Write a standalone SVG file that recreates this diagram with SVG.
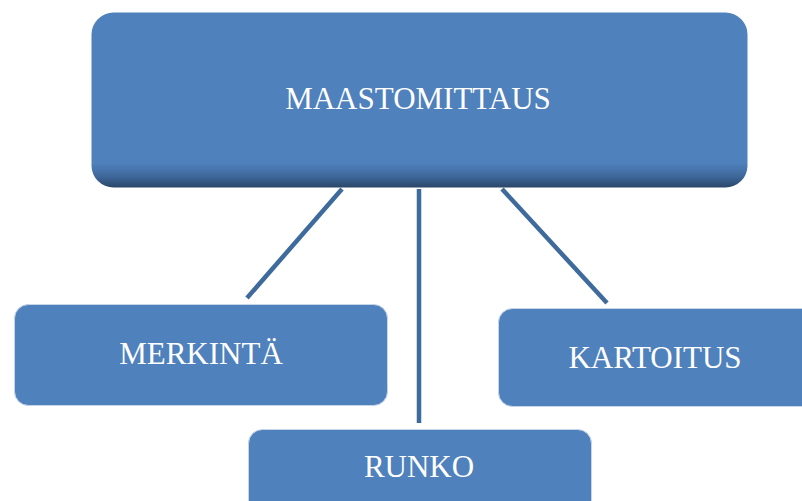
<svg xmlns="http://www.w3.org/2000/svg" width="802" height="501" viewBox="0 0 802 501">
<defs>
<linearGradient id="topShade" x1="0" y1="0" x2="0" y2="1">
<stop offset="0" stop-color="#4f81bd"/>
<stop offset="0.86" stop-color="#4f81bd"/>
<stop offset="0.94" stop-color="#3d6698"/>
<stop offset="1" stop-color="#2a4668"/>
</linearGradient>
<style>
.box{fill:#4f81bd;stroke:#c6d5e8;stroke-width:1}
.main{fill:url(#topShade);stroke:none}
.lbl{font-family:"Liberation Serif","Times New Roman",serif;fill:#ffffff;text-anchor:middle}
.conn{stroke:#3f6a9c;stroke-width:4.5;fill:none}
</style>
</defs>
<rect width="802" height="501" fill="#ffffff"/>
<g id="connectors">
<line class="conn" x1="342" y1="189" x2="247" y2="298"/>
<line class="conn" x1="419" y1="189" x2="419" y2="423"/>
<line class="conn" x1="502" y1="189" x2="607" y2="303"/>
</g>
<g id="maastomittaus">
<rect class="main" x="91.5" y="12.5" width="656" height="175" rx="22" ry="22"/>
<text class="lbl" x="418" y="109" font-size="31">MAASTOMITTAUS</text>
</g>
<g id="merkinta">
<rect class="box" x="14.5" y="304.5" width="373" height="101" rx="14" ry="14"/>
<text class="lbl" x="201" y="364" font-size="31">MERKINTÄ</text>
</g>
<g id="kartoitus">
<rect class="box" x="498.5" y="308.5" width="320" height="98" rx="14" ry="14"/>
<text class="lbl" x="655" y="368" font-size="31">KARTOITUS</text>
</g>
<g id="runko">
<rect class="box" x="248.5" y="429.5" width="343" height="100" rx="14" ry="14"/>
<text class="lbl" x="419" y="477" font-size="31">RUNKO</text>
</g>
</svg>
